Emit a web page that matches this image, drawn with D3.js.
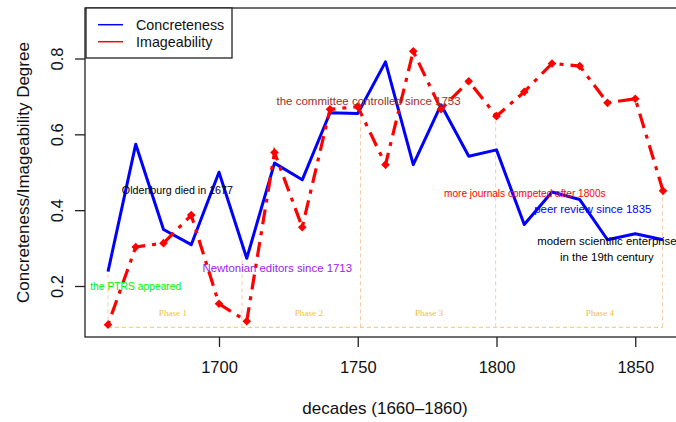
<!DOCTYPE html>
<html>
<head>
<meta charset="utf-8">
<script src="https://cdn.jsdelivr.net/npm/d3@7"></script>
<style>
  html, body { margin: 0; padding: 0; background: #fff; }
  svg { display: block; font-family: "Liberation Sans", Arial, Helvetica, sans-serif; }
</style>
</head>
<body>
<svg id="chart" width="676" height="422"></svg>
<script>
// ---- data ----
const decades = [1660,1670,1680,1690,1700,1710,1720,1730,1740,1750,1760,1770,1780,1790,1800,1810,1820,1830,1840,1850,1860];
const concreteness = [0.238,0.574,0.349,0.309,0.500,0.273,0.524,0.480,0.657,0.655,0.791,0.520,0.678,0.542,0.559,0.362,0.448,0.428,0.322,0.338,0.322];
const imageability = [0.098,0.303,0.313,0.387,0.153,0.107,0.552,0.355,0.666,0.673,0.520,0.819,0.666,0.740,0.648,0.712,0.787,0.780,0.683,0.694,0.451];
const xTicks = [1700,1750,1800,1850];
const yTicks = [0.2,0.4,0.6,0.8];
const phaseBounds = [1660,1708.3,1751,1799.7,1859.8];
const phaseTops = [0.238,0.31,0.655,0.648,0.451];
const phaseBase = 0.091;
const phaseLabels = ["Phase 1","Phase 2","Phase 3","Phase 4"];
const phaseLabelX = [1683.4,1732.4,1775.7,1837.3];
const notes = [
  {text:"Oldenburg died in 1677", x:1685, y:0.453, color:"#000000", size:10.7},
  {text:"the PTRS appeared", x:1670, y:0.200, color:"#00EE00", size:10.3},
  {text:"Newtonian editors since 1713", x:1721, y:0.248, color:"#A020F0", size:11.4},
  {text:"the committee controlled since 1753", x:1753.9, y:0.689, color:"#A52A2A", size:11.5},
  {text:"more journals competed after 1800s", x:1810.2, y:0.443, color:"#FF0000", size:10.1},
  {text:"peer review since 1835", x:1834.7, y:0.403, color:"#0000FF", size:11.4},
  {text:"modern scientific enterprise", x:1839.8, y:0.319, color:"#000000", size:11.4},
  {text:"in the 19th century", x:1839.8, y:0.277, color:"#000000", size:11.4}
];

// ---- layout ----
const svg = d3.select("#chart");
const frame = {left:85, top:8, right:685, bottom:337};
const x = d3.scaleLinear().domain([1660,1860]).range([108,663]);
const y = d3.scaleLinear().domain([0.2,0.8]).range([286,58.5]);

// phase boundaries
svg.append("line")
  .attr("x1", x(phaseBounds[0])).attr("x2", x(phaseBounds[phaseBounds.length-1]))
  .attr("y1", y(phaseBase)).attr("y2", y(phaseBase))
  .attr("stroke", "#FFC840").attr("stroke-width", 1).attr("stroke-dasharray", "4,3");
svg.selectAll(".pb").data(phaseBounds).enter().append("line")
  .attr("x1", d => x(d)).attr("x2", d => x(d))
  .attr("y1", y(phaseBase)).attr("y2", (d,i) => y(phaseTops[i]))
  .attr("stroke", "#F7CBA8").attr("stroke-width", 1).attr("stroke-dasharray", "4,3");
svg.selectAll(".pl").data(phaseLabels).enter().append("text")
  .attr("x", (d,i) => x(phaseLabelX[i])).attr("y", 316)
  .attr("text-anchor", "middle")
  .attr("font-family", "'Liberation Serif', 'Times New Roman', serif")
  .attr("font-size", 9.2).attr("fill", "#F2BE3A")
  .text(d => d);

// lines
const line = d3.line().x(d => x(d[0])).y(d => y(d[1]));
svg.append("path")
  .datum(decades.map((d,i) => [d, concreteness[i]]))
  .attr("d", line).attr("fill", "none")
  .attr("stroke", "#0000FF").attr("stroke-width", 3).attr("stroke-linejoin", "round");
svg.append("path")
  .datum(decades.map((d,i) => [d, imageability[i]]))
  .attr("d", line).attr("fill", "none")
  .attr("stroke", "#FF0000").attr("stroke-width", 3.2)
  .attr("stroke-dasharray", "4,7,15,7");
const r = 4.3;
svg.selectAll(".mk").data(decades).enter().append("path")
  .attr("d", (d,i) => {
    const cx = x(d), cy = y(imageability[i]);
    return `M${cx},${cy-r}L${cx+r},${cy}L${cx},${cy+r}L${cx-r},${cy}Z`;
  })
  .attr("fill", "#FF0000");

// annotations
svg.selectAll(".note").data(notes).enter().append("text")
  .attr("x", d => x(d.x)).attr("y", d => y(d.y))
  .attr("dy", "0.35em")
  .attr("text-anchor", "middle")
  .attr("font-size", d => d.size).attr("fill", d => d.color)
  .text(d => d.text);

// frame
svg.append("rect")
  .attr("x", frame.left).attr("y", frame.top)
  .attr("width", frame.right - frame.left).attr("height", frame.bottom - frame.top)
  .attr("fill", "none").attr("stroke", "#222").attr("stroke-width", 1.3);

// axes
const xAxis = svg.append("g").attr("transform", `translate(0,${frame.bottom})`)
  .call(d3.axisBottom(x).tickValues(xTicks).tickSize(10).tickPadding(14.5).tickFormat(d3.format("d")));
xAxis.select(".domain").remove();
xAxis.selectAll("line").attr("stroke", "#222").attr("stroke-width", 1.3);
xAxis.selectAll("text").attr("font-size", 16.5).attr("font-family", "'Liberation Sans', Arial, sans-serif").attr("fill", "#111");

const yAxis = svg.append("g").attr("transform", `translate(${frame.left},0)`)
  .call(d3.axisLeft(y).tickValues(yTicks).tickSize(10).tickFormat(d3.format(".1f")));
yAxis.select(".domain").remove();
yAxis.selectAll("line").attr("stroke", "#222").attr("stroke-width", 1.3);
yAxis.selectAll("text")
  .attr("x", 0).attr("dy", null).attr("text-anchor", "middle")
  .attr("transform", "translate(-21.7,0) rotate(-90)")
  .attr("font-size", 16.5).attr("font-family", "'Liberation Sans', Arial, sans-serif").attr("fill", "#111");

// axis titles
svg.append("text")
  .attr("x", (frame.left + frame.right) / 2).attr("y", 414)
  .attr("text-anchor", "middle").attr("font-size", 17).attr("fill", "#111")
  .text("decades (1660\u20131860)");
svg.append("text")
  .attr("transform", `translate(29,${(frame.top + frame.bottom) / 2}) rotate(-90)`)
  .attr("text-anchor", "middle").attr("font-size", 17).attr("fill", "#111")
  .text("Concreteness/Imageability Degree");

// legend
const lg = svg.append("g");
lg.append("rect").attr("x", 86).attr("y", 8).attr("width", 146).attr("height", 50)
  .attr("fill", "#fff").attr("stroke", "#222").attr("stroke-width", 1.3);
const legendItems = [{name:"Concreteness", color:"#0000FF"}, {name:"Imageability", color:"#FF0000"}];
legendItems.forEach((d,i) => {
  const ly = 24.7 + i * 17;
  lg.append("line").attr("x1", 98).attr("x2", 123).attr("y1", ly).attr("y2", ly)
    .attr("stroke", d.color).attr("stroke-width", 1.5);
  lg.append("text").attr("x", 136).attr("y", ly).attr("dy", "0.35em")
    .attr("font-size", 14.3).attr("fill", "#111").text(d.name);
});
</script>
</body>
</html>
